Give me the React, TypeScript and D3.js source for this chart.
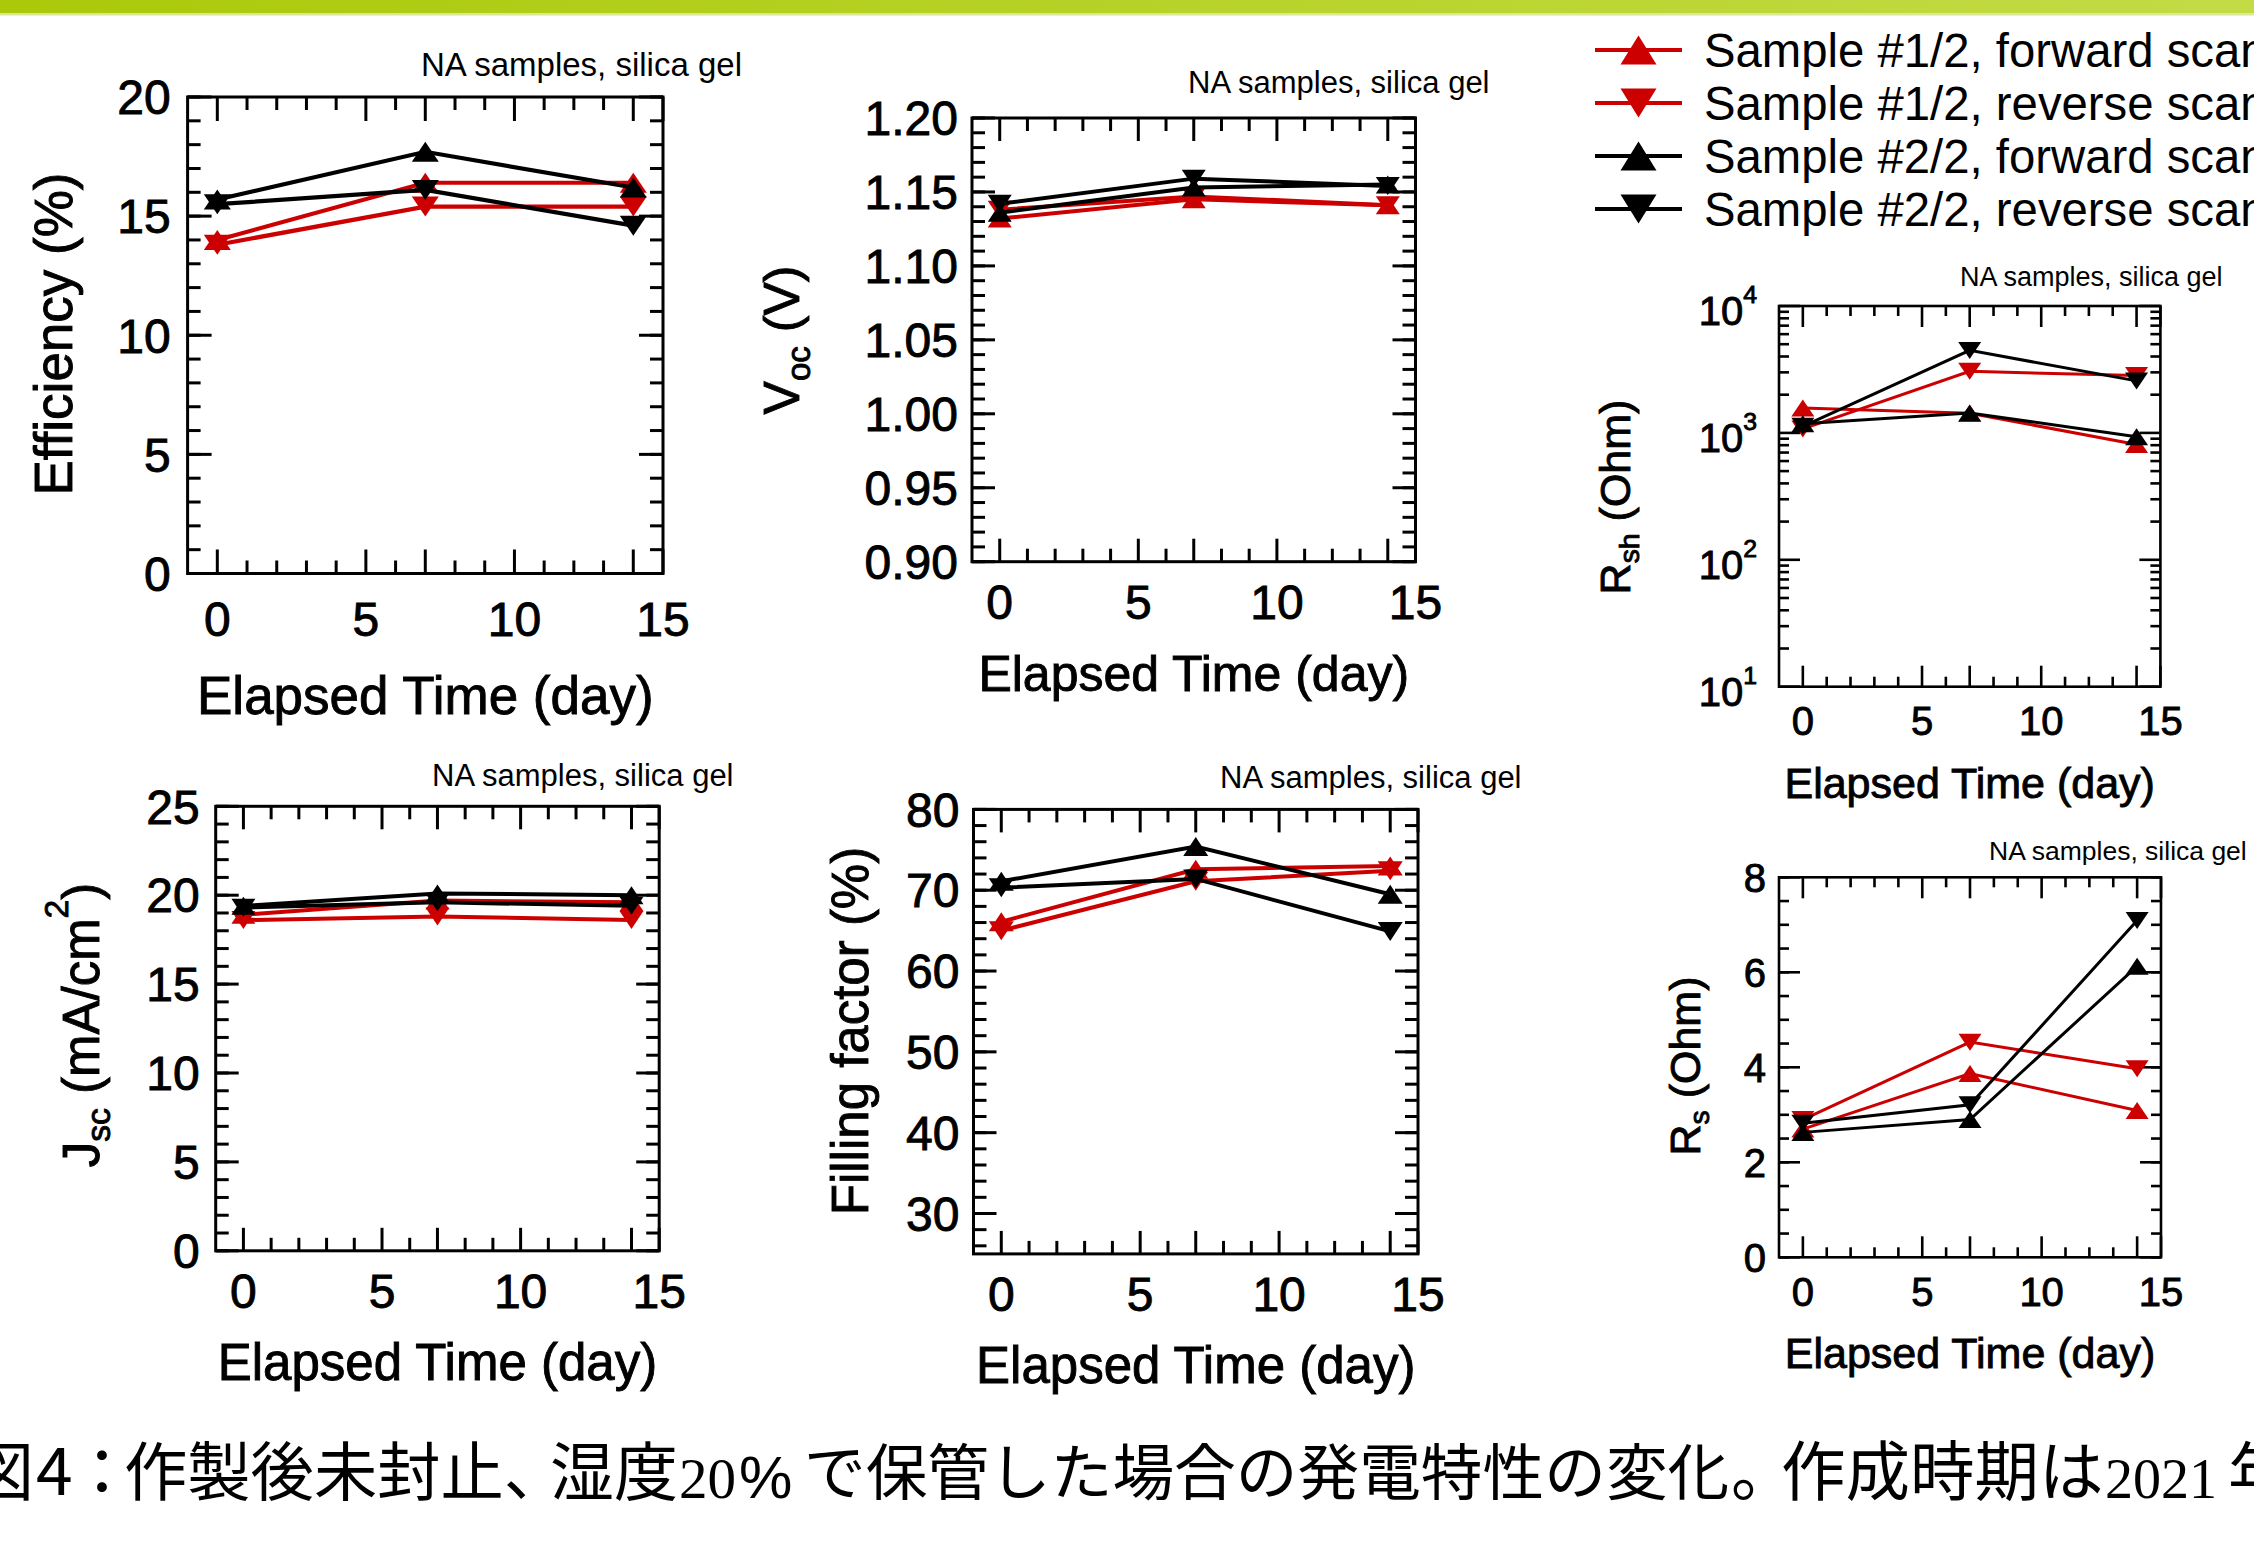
import React from 'react';
import * as d3 from 'd3';

const W = 2254;
const H = 1555;
const RED = '#cc0000';
const BLACK = '#000000';
const FONT = '"Liberation Sans", Arial, Helvetica, sans-serif';
const CJK = '"Noto Sans CJK JP", sans-serif';
const SERIF = '"Liberation Serif", "Times New Roman", serif';

// elapsed time (day)
const days = [0, 7, 14];

// series: S1F = sample #1/2 forward, S1R = #1/2 reverse, S2F/S2R = sample #2/2
const effS1F = [14.0, 16.4, 16.4];
const effS1R = [13.8, 15.4, 15.4];
const effS2F = [15.7, 17.7, 16.2];
const effS2R = [15.5, 16.1, 14.6];

const vocS1F = [1.132, 1.145, 1.141];
const vocS1R = [1.138, 1.147, 1.141];
const vocS2F = [1.136, 1.153, 1.155];
const vocS2R = [1.142, 1.159, 1.154];

const rshS1F = [1570, 1430, 810];
const rshS1R = [1075, 3055, 2830];
const rshS2F = [1183, 1435, 933];
const rshS2R = [1127, 4470, 2570];

const jscS1F = [18.9, 19.7, 19.6];
const jscS1R = [18.6, 18.8, 18.6];
const jscS2F = [19.4, 20.1, 20.0];
const jscS2R = [19.3, 19.6, 19.4];

const ffS1F = [66.1, 72.6, 73.0];
const ffS1R = [65.0, 71.1, 72.4];
const ffS2F = [71.1, 75.4, 69.5];
const ffS2R = [70.3, 71.4, 64.9];

const rsS1F = [2.70, 3.87, 3.09];
const rsS1R = [2.90, 4.53, 3.97];
const rsS2F = [2.63, 2.90, 6.13];
const rsS2R = [2.82, 3.21, 7.09];

const seriesNames = [
  'Sample #1/2, forward scan',
  'Sample #1/2, reverse scan',
  'Sample #2/2, forward scan',
  'Sample #2/2, reverse scan',
];
const seriesColors = [RED, RED, BLACK, BLACK];
const seriesShapes = ['up', 'down', 'up', 'down'];

const xLabels = [0, 5, 10, 15];
const xLongTicks = [0, 5, 7, 10, 14, 15];
const xMinorTicks = d3.range(0, 16);

const noteText = 'NA samples, silica gel';
const xTitleText = 'Elapsed Time (day)';

// caption pieces: [text, font, size, x, baseline]
const captionParts = [
  ['図', CJK, 64, -30, 1495],
  ['4', CJK, 66, 36, 1495],
  ['：', CJK, 64, 70, 1495],
  ['作製後未封止、', CJK, 63.3, 124, 1495],
  ['湿度', CJK, 64, 568 - 18, 1495],
  ['20', SERIF, 57, 679, 1498],
  ['%', FONT, 60, 739, 1498],
  ['で保管した場合の発電特性の変化', CJK, 61.7, 804, 1495],
  ['。', CJK, 64, 1731, 1495],
  ['作成時期は', CJK, 64.5, 1781, 1495],
  ['2021', SERIF, 56, 2105, 1498],
  ['年', CJK, 64, 2228, 1495],
];

function tri(shape, w, h) {
  return shape === 'up'
    ? `M0,${-h / 2}L${w / 2},${h / 2}L${-w / 2},${h / 2}Z`
    : `M0,${h / 2}L${w / 2},${-h / 2}L${-w / 2},${-h / 2}Z`;
}

const heavy = { stroke: '#000', strokeWidth: 0.9, paintOrder: 'stroke' };

function Panel({ cfg }) {
  const { box } = cfg;
  const x = d3.scaleLinear().domain([-1, 15]).range([box.l, box.r]);
  const y = (cfg.log ? d3.scaleLog() : d3.scaleLinear()).domain(cfg.yDomain).range([box.b, box.t]);
  const line = d3.line<number>().x((d, i) => x(days[i])).y(d => y(d));
  const sw = cfg.frameW;

  const ticks = [];
  xMinorTicks.forEach(v => {
    const len = xLongTicks.includes(v) ? cfg.majorLen : cfg.minorLen;
    ticks.push([x(v), box.b, x(v), box.b - len]);
    ticks.push([x(v), box.t, x(v), box.t + len]);
  });
  cfg.yMinor.forEach(v => {
    ticks.push([box.l, y(v), box.l + cfg.minorLen, y(v)]);
    ticks.push([box.r, y(v), box.r - cfg.minorLen, y(v)]);
  });
  cfg.yMajor.forEach(v => {
    ticks.push([box.l, y(v), box.l + cfg.majorLen, y(v)]);
    ticks.push([box.r, y(v), box.r - cfg.majorLen, y(v)]);
  });

  return (
    <g>
      {ticks.map((t, i) => (
        <line key={'t' + i} x1={t[0]} y1={t[1]} x2={t[2]} y2={t[3]} stroke="#000" strokeWidth={sw} />
      ))}
      <rect x={box.l} y={box.t} width={box.r - box.l} height={box.b - box.t} fill="none" stroke="#000" strokeWidth={sw} />

      {cfg.data.map((s, i) => (
        <g key={'s' + i}>
          <path d={line(s)} fill="none" stroke={seriesColors[i]} strokeWidth={cfg.lineW} />
          {s.map((v, j) => (
            <path key={j} d={tri(seriesShapes[i], cfg.mw, cfg.mh)}
              transform={`translate(${x(days[j])},${y(v)})`} fill={seriesColors[i]} />
          ))}
        </g>
      ))}

      <g style={heavy}>
        {xLabels.map(v => (
          <text key={'xl' + v} x={x(v)} y={cfg.xLabelY} fontSize={cfg.tickFont} textAnchor="middle">{v}</text>
        ))}
        {cfg.yMajor.map(v => cfg.log ? (
          <text key={'yl' + v} x={box.l - cfg.yGap} y={y(v) + cfg.tickFont * 0.47} fontSize={cfg.tickFont} textAnchor="end">
            10<tspan fontSize={cfg.tickFont * 0.62} dy={-cfg.tickFont * 0.55}>{Math.round(Math.log10(v))}</tspan>
          </text>
        ) : (
          <text key={'yl' + v} x={box.l - cfg.yGap} y={y(v)} dy="0.36em" fontSize={cfg.tickFont} textAnchor="end">
            {cfg.yFmt(v)}
          </text>
        ))}

        <text x={(box.l + box.r) / 2} y={cfg.xTitleY} fontSize={cfg.titleFont} textAnchor="middle">{xTitleText}</text>
        <text transform={`translate(${cfg.yTitleX},${cfg.yTitleY}) rotate(-90)`} fontSize={cfg.titleFont} textAnchor="middle">
          {cfg.yTitle(cfg.titleFont)}
        </text>
      </g>
      <text x={cfg.noteX} y={cfg.noteY} fontSize={cfg.noteFont}>{noteText}</text>
    </g>
  );
}

const sub = (main, s, rest, f) => [
  <tspan key="a">{main}</tspan>,
  <tspan key="b" fontSize={f * 0.66} dy={f * 0.22}>{s}</tspan>,
  <tspan key="c" dy={-f * 0.22}>{rest}</tspan>,
];

const fmt0 = d3.format('d');
const fmt2 = d3.format('.2f');

const panels = [
  {
    box: { l: 187.6, r: 663, t: 97, b: 573.5 }, yDomain: [0, 20],
    yMajor: d3.range(0, 21, 5), yMinor: d3.range(0, 21, 1), yFmt: fmt0,
    tickFont: 48, titleFont: 53, noteFont: 33, noteX: 421, noteY: 76,
    xLabelY: 636, xTitleY: 714, yGap: 17, yTitleX: 72, yTitleY: 334,
    yTitle: f => 'Efficiency (%)',
    majorLen: 24, minorLen: 13, frameW: 3, lineW: 4.2, mw: 27, mh: 20,
    data: [effS1F, effS1R, effS2F, effS2R],
  },
  {
    box: { l: 972, r: 1415.5, t: 118, b: 561.7 }, yDomain: [0.9, 1.2],
    yMajor: d3.range(0, 7).map(i => 0.9 + i * 0.05), yMinor: d3.range(0, 31).map(i => 0.9 + i * 0.01), yFmt: fmt2,
    tickFont: 48, titleFont: 50, noteFont: 31, noteX: 1188, noteY: 93,
    xLabelY: 619, xTitleY: 691, yGap: 14, yTitleX: 799, yTitleY: 340,
    yTitle: f => sub('V', 'oc', ' (V)', f),
    majorLen: 23, minorLen: 13, frameW: 3, lineW: 4, mw: 24, mh: 18,
    data: [vocS1F, vocS1R, vocS2F, vocS2R],
  },
  {
    box: { l: 1779, r: 2160.4, t: 306, b: 686.7 }, yDomain: [10, 10000], log: true,
    yMajor: [10, 100, 1000, 10000],
    yMinor: [10, 100, 1000].flatMap(d => d3.range(2, 10).map(k => k * d)), yFmt: fmt0,
    tickFont: 40, titleFont: 43, noteFont: 27, noteX: 1960, noteY: 286,
    xLabelY: 735, xTitleY: 798, yGap: 22, yTitleX: 1630, yTitleY: 497,
    yTitle: f => sub('R', 'sh', ' (Ohm)', f),
    majorLen: 21, minorLen: 10, frameW: 2.6, lineW: 3, mw: 23, mh: 17,
    data: [rshS1F, rshS1R, rshS2F, rshS2R],
  },
  {
    box: { l: 215.7, r: 659.2, t: 806.3, b: 1250.8 }, yDomain: [0, 25],
    yMajor: d3.range(0, 26, 5), yMinor: d3.range(0, 26, 1), yFmt: fmt0,
    tickFont: 48, titleFont: 51, noteFont: 31, noteX: 432, noteY: 786,
    xLabelY: 1308, xTitleY: 1380, yGap: 16, yTitleX: 99, yTitleY: 1025,
    yTitle: f => [
      <tspan key="a">J</tspan>,
      <tspan key="b" fontSize={f * 0.66} dy={f * 0.22}>sc</tspan>,
      <tspan key="c" dy={-f * 0.22}> (mA/cm</tspan>,
      <tspan key="d" fontSize={f * 0.66} dy={-f * 0.6}>2</tspan>,
      <tspan key="e" dy={f * 0.6}>)</tspan>,
    ],
    majorLen: 23, minorLen: 13, frameW: 3, lineW: 4, mw: 24, mh: 18,
    data: [jscS1F, jscS1R, jscS2F, jscS2R],
  },
  {
    box: { l: 973.5, r: 1418, t: 809.4, b: 1253.9 }, yDomain: [25, 80],
    yMajor: d3.range(30, 81, 10), yMinor: d3.range(26, 81, 2), yFmt: fmt0,
    tickFont: 48, titleFont: 51, noteFont: 31, noteX: 1220, noteY: 788,
    xLabelY: 1311, xTitleY: 1383, yGap: 14, yTitleX: 868, yTitleY: 1031,
    yTitle: f => 'Filling factor (%)',
    majorLen: 23, minorLen: 13, frameW: 3, lineW: 4, mw: 25, mh: 19,
    data: [ffS1F, ffS1R, ffS2F, ffS2R],
  },
  {
    box: { l: 1779, r: 2161, t: 877.3, b: 1257.3 }, yDomain: [0, 8],
    yMajor: d3.range(0, 9, 2), yMinor: d3.range(0, 8.01, 0.5), yFmt: fmt0,
    tickFont: 40, titleFont: 43, noteFont: 26.5, noteX: 1989, noteY: 860,
    xLabelY: 1306, xTitleY: 1368, yGap: 13, yTitleX: 1700, yTitleY: 1066,
    yTitle: f => sub('R', 's', ' (Ohm)', f),
    majorLen: 21, minorLen: 10, frameW: 2.6, lineW: 3, mw: 23, mh: 17,
    data: [rsS1F, rsS1R, rsS2F, rsS2R],
  },
];

const legendRows = [50, 103, 156, 209];

function Legend() {
  return (
    <g>
      {seriesNames.map((name, i) => (
        <g key={name}>
          <line x1={1595} x2={1682} y1={legendRows[i]} y2={legendRows[i]} stroke={seriesColors[i]} strokeWidth={4} />
          <path d={tri(seriesShapes[i], 36, 29)} transform={`translate(1638.5,${legendRows[i]})`} fill={seriesColors[i]} />
          <text x={1704} y={legendRows[i]} dy="0.36em" fontSize={47.3}>{name}</text>
        </g>
      ))}
    </g>
  );
}

export default function App() {
  return (
    <svg width={W} height={H} viewBox={`0 0 ${W} ${H}`}
      style={{ position: 'absolute', left: 0, top: 0, display: 'block', background: '#fff' }}
      fontFamily={FONT}>
      <defs>
        <linearGradient id="bar" x1="0" x2="1" y1="0" y2="0">
          <stop offset="0" stopColor="#abc909" />
          <stop offset="1" stopColor="#c3db45" />
        </linearGradient>
      </defs>
      <rect x={0} y={0} width={W} height={H} fill="#fff" />
      <rect x={0} y={0} width={W} height={13.5} fill="url(#bar)" />
      <rect x={0} y={13.5} width={W} height={2} fill="#d9e896" />

      {panels.map((p, i) => <Panel key={i} cfg={p} />)}
      <Legend />

      {captionParts.map(([t, f, s, px, py]) => (
        <text key={t} x={px} y={py} fontFamily={f} fontSize={s}>{t}</text>
      ))}
    </svg>
  );
}
